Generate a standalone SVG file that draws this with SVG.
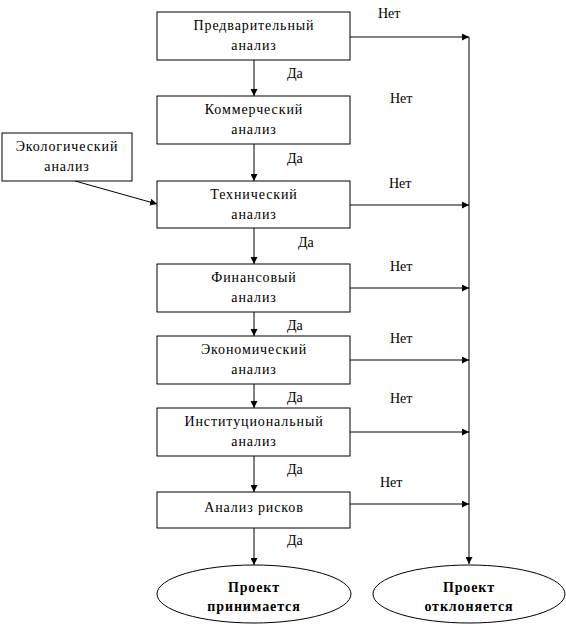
<svg xmlns="http://www.w3.org/2000/svg" width="566" height="626" viewBox="0 0 566 626">
<defs>
<marker id="ah" viewBox="0 0 10 10" refX="10" refY="5" markerWidth="7" markerHeight="7" markerUnits="userSpaceOnUse" orient="auto">
<path d="M0,0 L10,5 L0,10 z" fill="#000"/>
</marker>
</defs>
<style>
.box{fill:#fff;stroke:#000;stroke-width:1}
text{font-family:'Liberation Serif','DejaVu Serif',serif;font-size:14px;fill:#000}
.t{text-anchor:middle;letter-spacing:0.9px}
.b{font-weight:bold;text-anchor:middle;letter-spacing:0.9px}
.c{stroke:#000;stroke-width:1;fill:none;marker-end:url(#ah)}
</style>
<rect width="566" height="626" fill="#fff"/>
<g id="connectors">
<line class="c" x1="254" y1="60" x2="254" y2="96"/>
<line class="c" x1="254" y1="144" x2="254" y2="181"/>
<line class="c" x1="254" y1="228" x2="254" y2="264"/>
<line class="c" x1="254" y1="312" x2="254" y2="336"/>
<line class="c" x1="254" y1="384" x2="254" y2="408"/>
<line class="c" x1="254" y1="456" x2="254" y2="492"/>
<line class="c" x1="254" y1="528" x2="254" y2="565"/>
<line class="c" x1="350" y1="37" x2="469" y2="37"/>
<line class="c" x1="350" y1="205" x2="469" y2="205"/>
<line class="c" x1="350" y1="288" x2="469" y2="288"/>
<line class="c" x1="350" y1="360" x2="469" y2="360"/>
<line class="c" x1="350" y1="432" x2="469" y2="432"/>
<line class="c" x1="350" y1="504" x2="469" y2="504"/>
<line class="c" x1="469" y1="37" x2="469" y2="564"/>
<line class="c" x1="75" y1="181" x2="157" y2="204"/>
<text x="378" y="18">Нет</text>
<text x="287" y="78">Да</text>
<text x="390" y="103">Нет</text>
<text x="287" y="163">Да</text>
<text x="389" y="188">Нет</text>
<text x="298" y="247">Да</text>
<text x="390" y="271">Нет</text>
<text x="287" y="330">Да</text>
<text x="390" y="343">Нет</text>
<text x="287" y="402">Да</text>
<text x="390" y="403">Нет</text>
<text x="287" y="474">Да</text>
<text x="380" y="487">Нет</text>
<text x="287" y="545">Да</text>
</g>
<g id="n1"><rect class="box" x="157" y="12" width="193" height="48"/><text class="t" x="254" y="30">Предварительный</text><text class="t" x="254" y="50">анализ</text></g>
<g id="n2"><rect class="box" x="157" y="96" width="193" height="48"/><text class="t" x="254" y="114">Коммерческий</text><text class="t" x="254" y="134">анализ</text></g>
<g id="eco"><rect class="box" x="2" y="133" width="130" height="48"/><text class="t" x="67" y="151">Экологический</text><text class="t" x="67" y="171">анализ</text></g>
<g id="n3"><rect class="box" x="157" y="181" width="193" height="47"/><text class="t" x="254" y="199">Технический</text><text class="t" x="254" y="219">анализ</text></g>
<g id="n4"><rect class="box" x="157" y="264" width="193" height="48"/><text class="t" x="254" y="282">Финансовый</text><text class="t" x="254" y="302">анализ</text></g>
<g id="n5"><rect class="box" x="157" y="336" width="193" height="48"/><text class="t" x="254" y="354">Экономический</text><text class="t" x="254" y="374">анализ</text></g>
<g id="n6"><rect class="box" x="157" y="408" width="193" height="48"/><text class="t" x="254" y="426">Институциональный</text><text class="t" x="254" y="446">анализ</text></g>
<g id="n7"><rect class="box" x="157" y="492" width="193" height="36"/><text class="t" x="254" y="512">Анализ рисков</text></g>
<g id="accept"><ellipse class="box" cx="254" cy="594" rx="97" ry="29"/><text class="b" x="254" y="592">Проект</text><text class="b" x="254" y="611">принимается</text></g>
<g id="reject"><ellipse class="box" cx="469" cy="594" rx="96" ry="29"/><text class="b" x="469" y="592">Проект</text><text class="b" x="469" y="611">отклоняется</text></g>
</svg>
